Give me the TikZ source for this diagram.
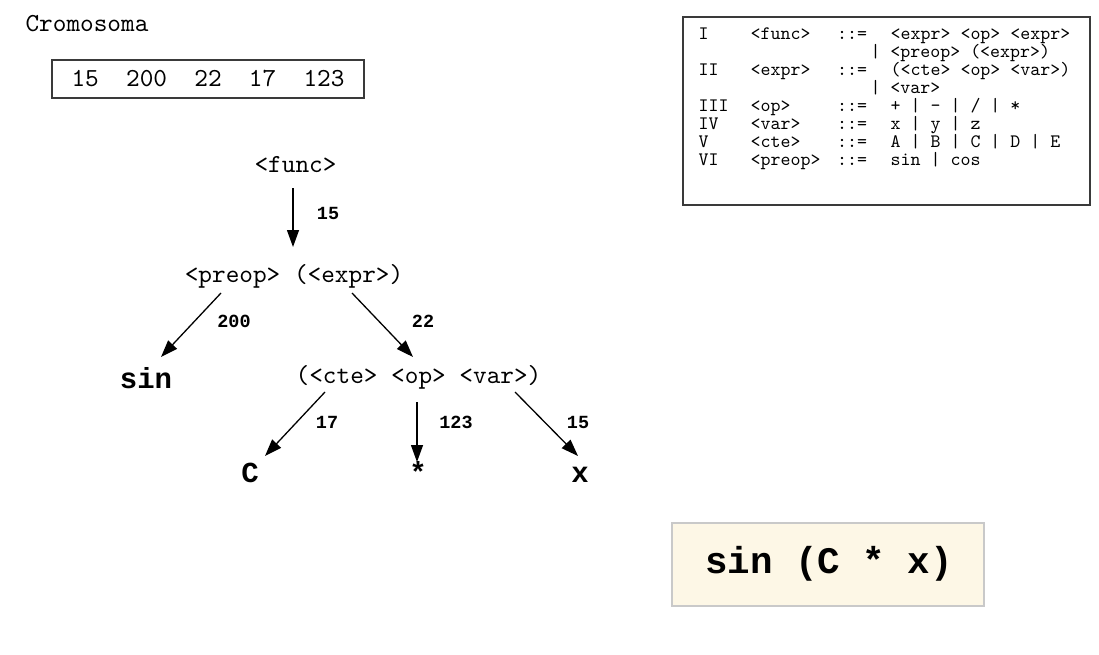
\documentclass[tikz,border=0pt]{standalone}
\usepackage{fontspec}
\newfontfamily\cour{lmmono10-regular.otf}
\newfontfamily\courb{Liberation Mono}
\usetikzlibrary{arrows.meta}
\definecolor{cream}{HTML}{FDF7E6}
\definecolor{boxgray}{HTML}{C9C9C9}
\definecolor{dark}{HTML}{3A3A3A}
\newcommand{\fs}[1]{\fontsize{#1}{#1}\selectfont}
\begin{document}
\begin{tikzpicture}[x=1pt,y=-1pt,
  txt/.style={inner sep=0pt,anchor=base,font=\cour\fs{26}},
  lbl/.style={inner sep=0pt,anchor=base,font=\courb\bfseries\fs{18.5}},
  leaf/.style={inner sep=0pt,anchor=base,font=\courb\bfseries\fs{29}},
  gr/.style={inner sep=0pt,anchor=base west,font=\cour\fs{19}},
  arr/.style={line width=1.3pt,-{Triangle[length=17pt,width=12pt]}}]
\useasboundingbox (0,0) rectangle (1099,655);
\fill[white] (0,0) rectangle (1099,655);

% chromosome
\node[txt] (crom) at (87,32) {Cromosoma};
\draw[dark,line width=1.2pt] (52,60) rectangle (364,98);
\node[txt] (genes) at (208,87) {15\ \ 200\ \ 22\ \ 17\ \ 123};

% grammar box
\draw[dark,line width=1.5pt] (683,17) rectangle (1090,205);
\foreach \y/\a/\b/\c in {40/I/<func>/{<expr> <op> <expr>},
  76/II/<expr>/{(<cte> <op> <var>)},
  112/III/<op>/{+ | – | / | *},
  130/IV/<var>/{x | y | z},
  148/V/<cte>/{A | B | C | D | E},
  166/VI/<preop>/{sin | cos}}{
  \node[gr] at (698.5,\y) {\a};
  \node[gr] at (750.5,\y) {\b};
  \node[gr] at (837,\y) {::=};
  \node[gr] at (890.5,\y) {\c};
}
\node[gr] (g2) at (870.3,58) {| <preop> (<expr>)};
\node[gr] (g4) at (870.3,94) {| <var>};

% tree
\node[txt] (func) at (295.5,172) {<func>};
\node[txt] (preop) at (294,282) {<preop> (<expr>)};
\node[leaf] (sin) at (146,388) {sin};
\node[txt] (cte) at (418.5,383) {(<cte> <op> <var>)};
\node[leaf] (C) at (250,482) {C};
\node[leaf] (star) at (418,482) {*};
\node[leaf] (x) at (580,482) {x};

\coordinate (a1s) at (293,188); \coordinate (a1e) at (293,247);
\coordinate (a2s) at (221,293); \coordinate (a2e) at (161,357);
\coordinate (a3s) at (352,293); \coordinate (a3e) at (413,357);
\coordinate (a4s) at (325,392); \coordinate (a4e) at (265,456);
\coordinate (a5s) at (417,402); \coordinate (a5e) at (417,462);
\coordinate (a6s) at (515,392); \coordinate (a6e) at (578,456);
\draw[arr] (a1s) -- (a1e);
\draw[arr] (a2s) -- (a2e);
\draw[arr] (a3s) -- (a3e);
\draw[arr] (a4s) -- (a4e);
\draw[arr] (a5s) -- (a5e);
\draw[arr] (a6s) -- (a6e);

\node[lbl] (l1) at (328,219) {15};
\node[lbl] (l2) at (234,327) {200};
\node[lbl] (l3) at (423,327) {22};
\node[lbl] (l4) at (327,428) {17};
\node[lbl] (l5) at (456,428) {123};
\node[lbl] (l6) at (578,428) {15};

% result
\draw[boxgray,fill=cream,line width=1.2pt] (672,523) rectangle (984,606);
\node[inner sep=0pt,anchor=base,font=\courb\bfseries\fs{37.5}] (res) at (829,573) {sin (C * x)};
\end{tikzpicture}
\end{document}
